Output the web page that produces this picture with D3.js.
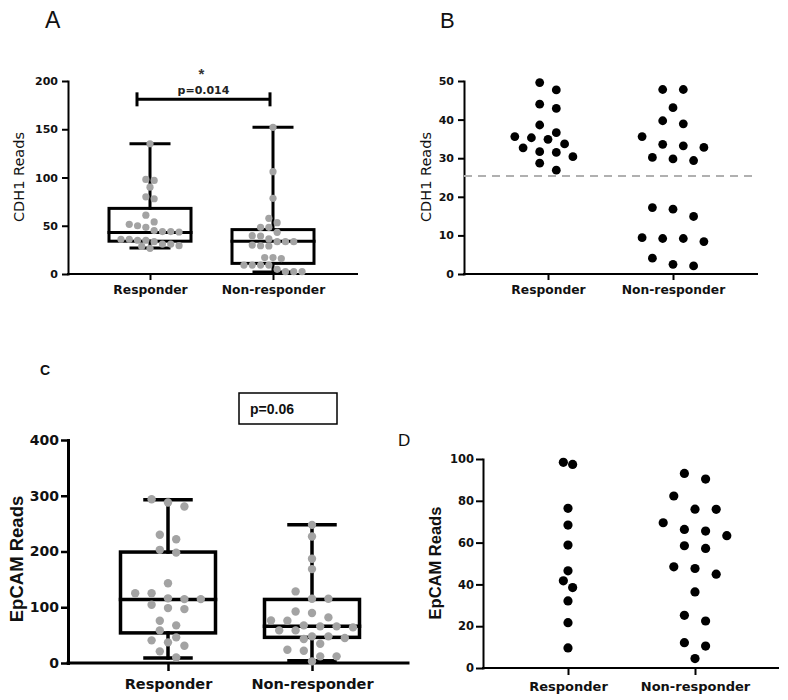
<!DOCTYPE html>
<html><head><meta charset="utf-8">
<script src="https://cdn.jsdelivr.net/npm/d3@7"></script>
<style>body{margin:0;background:#fff}</style>
</head><body><svg id="chart" width="788" height="700"></svg>
<script>
// ---------------- data ----------------
const categories = ["Responder", "Non-responder"];

// Panel A: CDH1 reads, all samples
const cdh1AllResponder = [135, 98, 97, 90, 80, 78, 61, 54, 51.5, 50, 48.4, 45, 44, 44, 43.5, 36, 36, 35, 35, 33.5, 31, 31, 29.4, 28.6, 26.6];
const cdh1AllNonResponder = [152, 106, 78.4, 57.7, 53.2, 48.4, 48.4, 43.2, 39.7, 39.4, 36.3, 33.5, 33.5, 33.5, 30, 29.3, 29, 17, 17, 16, 9.3, 9.3, 9.3, 9.3, 4.8, 2.4, 2.4, 2.4];
// box stats: [min, q1, median, q3, max]
const cdh1BoxResponder = [27, 34, 43, 68, 135];
const cdh1BoxNonResponder = [2, 11, 34, 46, 152];
const cdh1Ticks = [0, 50, 100, 150, 200];
const cdh1PValue = "p=0.014";
const cdh1Star = "*";

// Panel B: CDH1 reads, subset with threshold
const cdh1SubResponder = [49.6, 47.7, 44, 42.9, 38.6, 36.6, 35.6, 35.3, 34.9, 33.7, 32.7, 31.7, 31.5, 30.4, 28.7, 26.9];
const cdh1SubNonResponder = [47.8, 47.8, 43.1, 39.7, 38.9, 35.6, 33.6, 33.2, 32.8, 30.2, 29.8, 29.4, 17.2, 16.8, 14.9, 9.4, 9.2, 9.2, 8.4, 4.1, 2.5, 2.1];
const cdh1SubTicks = [0, 10, 20, 30, 40, 50];
const cdh1Threshold = 25.4;

// Panel C: EpCAM reads, all samples
const epcamAllResponder = [293.7, 288, 280.6, 230, 222, 203, 198, 143, 125, 125, 116, 114.6, 114.6, 104.5, 98.5, 96.7, 75.8, 67.5, 58.5, 46, 40.6, 37, 31, 20.9, 10];
const epcamAllNonResponder = [247.8, 226.9, 186.9, 168.4, 128.4, 115.2, 115.2, 92.5, 89.6, 81.8, 76.4, 75.8, 67.5, 65.7, 65.7, 63.9, 58.5, 58.5, 47.8, 47.8, 44.8, 43, 34.6, 23.9, 22, 11.9, 11.9, 3];
const epcamBoxResponder = [9, 54, 114, 199, 293];
const epcamBoxNonResponder = [4, 46, 66, 114, 248];
const epcamTicks = [0, 100, 200, 300, 400];
const epcamPValue = "p=0.06";

// Panel D: EpCAM reads, subset
const epcamSubResponder = [98.4, 97.4, 76.4, 68.4, 58.8, 46.5, 41.7, 38.5, 32.1, 21.7, 9.6];
const epcamSubNonResponder = [93.1, 90.4, 82.3, 76, 75.9, 69.5, 66.3, 65.5, 63.3, 58.5, 57.2, 48.4, 47.6, 44.9, 36.4, 25.2, 22.5, 12.1, 10.5, 4.5];
const epcamSubTicks = [0, 20, 40, 60, 80, 100];

// ---------------- drawing ----------------
const svg = d3.select("#chart");
svg.append("rect").attr("width", 788).attr("height", 700).attr("fill", "#fff");

// row-based scatter layout (points of similar value share a centred row)
function swarm(vals, cx, y, o) {
  const order = vals.map((v, i) => i).sort((a, b) => vals[b] - vals[a]);
  const rows = [];
  let cur = null;
  for (const i of order) {
    const py = y(vals[i]);
    if (!cur || py - cur.y0 > o.T) { cur = {y0: py, items: []}; rows.push(cur); }
    cur.items.push(i);
  }
  const placed = [];
  const out = new Array(vals.length);
  for (const row of rows) {
    const n = row.items.length;
    for (let k = 0; k < 40; k++) {
      const m = k === 0 ? 0 : (k % 2 === 1 ? -Math.ceil(k / 2) : Math.ceil(k / 2));
      const s = m * o.shift;
      const cand = row.items.map((idx, j) => ({idx, x: cx + (j - (n - 1) / 2) * o.sx + s, y: y(vals[idx])}));
      const ok = cand.every(c => placed.every(p => Math.hypot(p.x - c.x, p.y - c.y) >= o.dmin));
      if (ok || k === 39) {
        cand.forEach(c => { placed.push(c); out[c.idx] = c; });
        break;
      }
    }
  }
  return out;
}

function panel(cfg) {
  const g = svg.append("g");
  const y = d3.scaleLinear().domain([0, cfg.ymax]).range([cfg.yBottom, cfg.yTop]);
  const x = d3.scalePoint().domain(categories).range(cfg.centers);

  const ya = g.append("g").attr("transform", `translate(${cfg.x0},0)`)
    .call(d3.axisLeft(y).tickValues(cfg.ticks).tickSize(cfg.tickLen).tickPadding(cfg.yPad).tickSizeOuter(0));
  ya.select(".domain").attr("stroke", "#000").attr("stroke-width", cfg.axisW).attr("stroke-linecap", "square");
  ya.selectAll(".tick line").attr("stroke", "#000").attr("stroke-width", cfg.tickW);
  ya.selectAll(".tick text").attr("fill", "#111")
    .style("font-family", cfg.tickFont).style("font-size", cfg.tickSize + "px").style("font-weight", "bold");

  const xa = g.append("g").attr("transform", `translate(0,${cfg.yBottom})`)
    .call(d3.axisBottom(x).tickSize(cfg.xTickLen).tickPadding(cfg.xPad));
  xa.select(".domain").remove();
  xa.selectAll(".tick line").attr("stroke", "#000").attr("stroke-width", cfg.tickW);
  xa.selectAll(".tick text").attr("fill", "#111")
    .style("font-family", cfg.catFont).style("font-size", cfg.catSize + "px").style("font-weight", "bold");
  g.append("line").attr("x1", cfg.x0).attr("x2", cfg.x1)
    .attr("y1", cfg.yBottom).attr("y2", cfg.yBottom)
    .attr("stroke", "#000").attr("stroke-width", cfg.axisW).attr("stroke-linecap", "square");

  g.append("text").text(cfg.ylabel)
    .attr("transform", `translate(${cfg.ylabX},${cfg.ylabY}) rotate(-90)`)
    .attr("text-anchor", "middle").attr("dominant-baseline", "central")
    .attr("fill", "#111")
    .style("font-family", cfg.ylabFont).style("font-size", cfg.ylabSize + "px").style("font-weight", cfg.ylabWeight);

  g.append("text").text(cfg.letter).attr("x", cfg.letterX).attr("y", cfg.letterY)
    .attr("fill", "#111")
    .style("font-family", "'Liberation Sans', Arial, sans-serif")
    .style("font-size", cfg.letterSize + "px").style("font-weight", cfg.letterWeight);

  return {g, x, y};
}

function boxes(p, stats, cfg) {
  const {g, x, y} = p;
  stats.forEach((s, i) => {
    const cx = x(categories[i]);
    const [mn, q1, med, q3, mx] = s;
    const line = (x1, y1, x2, y2) => g.append("line").attr("x1", x1).attr("y1", y1).attr("x2", x2).attr("y2", y2)
      .attr("stroke", "#000").attr("stroke-width", cfg.boxW).attr("stroke-linecap", "square");
    line(cx, y(mx), cx, y(q3));
    line(cx, y(q1), cx, y(mn));
    line(cx - cfg.capW / 2, y(mx), cx + cfg.capW / 2, y(mx));
    line(cx - cfg.capW / 2, y(mn), cx + cfg.capW / 2, y(mn));
    g.append("rect").attr("x", cx - cfg.boxWidth / 2).attr("y", y(q3))
      .attr("width", cfg.boxWidth).attr("height", y(q1) - y(q3))
      .attr("fill", "none").attr("stroke", "#000").attr("stroke-width", cfg.boxW);
    line(cx - cfg.boxWidth / 2, y(med), cx + cfg.boxWidth / 2, y(med));
  });
}

function points(p, groups, cfg) {
  const {g, x, y} = p;
  groups.forEach((vals, i) => {
    const cx = x(categories[i]);
    const pts = swarm(vals, cx, y, cfg.layout[i]);
    g.append("g").selectAll("circle").data(pts).join("circle")
      .attr("cx", d => d.x).attr("cy", d => d.y).attr("r", cfg.r)
      .attr("fill", cfg.color);
  });
}

const DJ = "'DejaVu Sans', sans-serif";
const LIB = "'Liberation Sans', Arial, sans-serif";

// ----- Panel A -----
const pA = panel({
  x0: 68, x1: 357, yBottom: 274, yTop: 81, centers: [150, 273], ymax: 200, ticks: cdh1Ticks,
  tickLen: 6, yPad: 4, xTickLen: 6, xPad: 5, axisW: 2, tickW: 2,
  tickFont: DJ, tickSize: 11, catFont: DJ, catSize: 12.3,
  ylabel: "CDH1 Reads", ylabX: 19, ylabY: 177, ylabFont: DJ, ylabSize: 14.5, ylabWeight: "normal",
  letter: "A", letterX: 45, letterY: 28, letterSize: 23, letterWeight: "normal"
});
boxes(pA, [cdh1BoxResponder, cdh1BoxNonResponder], {boxW: 3, capW: 38, boxWidth: 82});
points(pA, [cdh1AllResponder, cdh1AllNonResponder], {
  layout: [{T: 7, sx: 8.3, shift: 4.15, dmin: 7}, {T: 7, sx: 8.3, shift: 4.15, dmin: 7}],
  r: 3.6, color: "#a3a3a3"
});
{
  const {g, x, y} = pA;
  const xl = x(categories[0]) - 13, xr = x(categories[1]) - 3, yb = y(181);
  g.append("line").attr("x1", xl).attr("x2", xr).attr("y1", yb).attr("y2", yb).attr("stroke", "#000").attr("stroke-width", 3);
  [xl, xr].forEach(xx => g.append("line").attr("x1", xx).attr("x2", xx).attr("y1", yb - 7).attr("y2", yb + 7).attr("stroke", "#000").attr("stroke-width", 3));
  g.append("text").text(cdh1PValue).attr("x", (xl + xr) / 2).attr("y", yb - 5).attr("text-anchor", "middle")
    .attr("fill", "#222").style("font-family", DJ).style("font-size", "11px").style("font-weight", "bold");
  g.append("text").text(cdh1Star).attr("x", (xl + xr) / 2 - 2).attr("y", yb - 20).attr("text-anchor", "middle")
    .attr("fill", "#333").style("font-family", LIB).style("font-size", "15px").style("font-weight", "bold");
}

// ----- Panel B -----
const pB = panel({
  x0: 464, x1: 757, yBottom: 274, yTop: 81, centers: [548, 673], ymax: 50, ticks: cdh1SubTicks,
  tickLen: 6, yPad: 4, xTickLen: 6, xPad: 5, axisW: 2, tickW: 2,
  tickFont: DJ, tickSize: 11, catFont: DJ, catSize: 12.3,
  ylabel: "CDH1 Reads", ylabX: 425.5, ylabY: 177, ylabFont: DJ, ylabSize: 14.5, ylabWeight: "normal",
  letter: "B", letterX: 440, letterY: 28, letterSize: 22, letterWeight: "normal"
});
{
  const {g, y} = pB;
  g.append("line").attr("x1", 464).attr("x2", 757).attr("y1", y(cdh1Threshold)).attr("y2", y(cdh1Threshold))
    .attr("stroke", "#b0b0b0").attr("stroke-width", 2).attr("stroke-dasharray", "8,6");
}
points(pB, [cdh1SubResponder, cdh1SubNonResponder], {
  layout: [{T: 11, sx: 16.6, shift: 8.3, dmin: 8.6}, {T: 11, sx: 20.6, shift: 10.3, dmin: 8.6}],
  r: 4.4, color: "#000"
});

// ----- Panel C -----
const pC = panel({
  x0: 68, x1: 408, yBottom: 663, yTop: 440, centers: [168, 312], ymax: 400, ticks: epcamTicks,
  tickLen: 7, yPad: 2, xTickLen: 8, xPad: 8, axisW: 3, tickW: 2.5,
  tickFont: DJ, tickSize: 14, catFont: DJ, catSize: 14.5,
  ylabel: "EpCAM Reads", ylabX: 16.5, ylabY: 559, ylabFont: LIB, ylabSize: 18.5, ylabWeight: "bold",
  letter: "C", letterX: 40, letterY: 375, letterSize: 14, letterWeight: "bold"
});
boxes(pC, [epcamBoxResponder, epcamBoxNonResponder], {boxW: 3.5, capW: 46, boxWidth: 95});
points(pC, [epcamAllResponder, epcamAllNonResponder], {
  layout: [{T: 8, sx: 16.4, shift: 8.2, dmin: 8.2}, {T: 8, sx: 16.4, shift: 8.2, dmin: 8.2}],
  r: 4.2, color: "#a3a3a3"
});
{
  const g = pC.g;
  g.append("rect").attr("x", 239).attr("y", 393).attr("width", 98).attr("height", 31)
    .attr("fill", "#fff").attr("stroke", "#000").attr("stroke-width", 1.5);
  g.append("text").text(epcamPValue).attr("x", 250).attr("y", 414)
    .attr("fill", "#111").style("font-family", LIB).style("font-size", "14px").style("font-weight", "bold");
}

// ----- Panel D -----
const pD = panel({
  x0: 483, x1: 778, yBottom: 668, yTop: 459, centers: [568, 695], ymax: 100, ticks: epcamSubTicks,
  tickLen: 7, yPad: 2, xTickLen: 7, xPad: 7, axisW: 2, tickW: 2,
  tickFont: DJ, tickSize: 11.5, catFont: DJ, catSize: 13,
  ylabel: "EpCAM Reads", ylabX: 434.5, ylabY: 563, ylabFont: LIB, ylabSize: 16.5, ylabWeight: "bold",
  letter: "D", letterX: 398, letterY: 446, letterSize: 17, letterWeight: "normal"
});
points(pD, [epcamSubResponder, epcamSubNonResponder], {
  layout: [{T: 9, sx: 9.3, shift: 4.65, dmin: 9}, {T: 13.5, sx: 21.2, shift: 10.6, dmin: 9}],
  r: 4.6, color: "#000"
});
</script>
</body></html>
